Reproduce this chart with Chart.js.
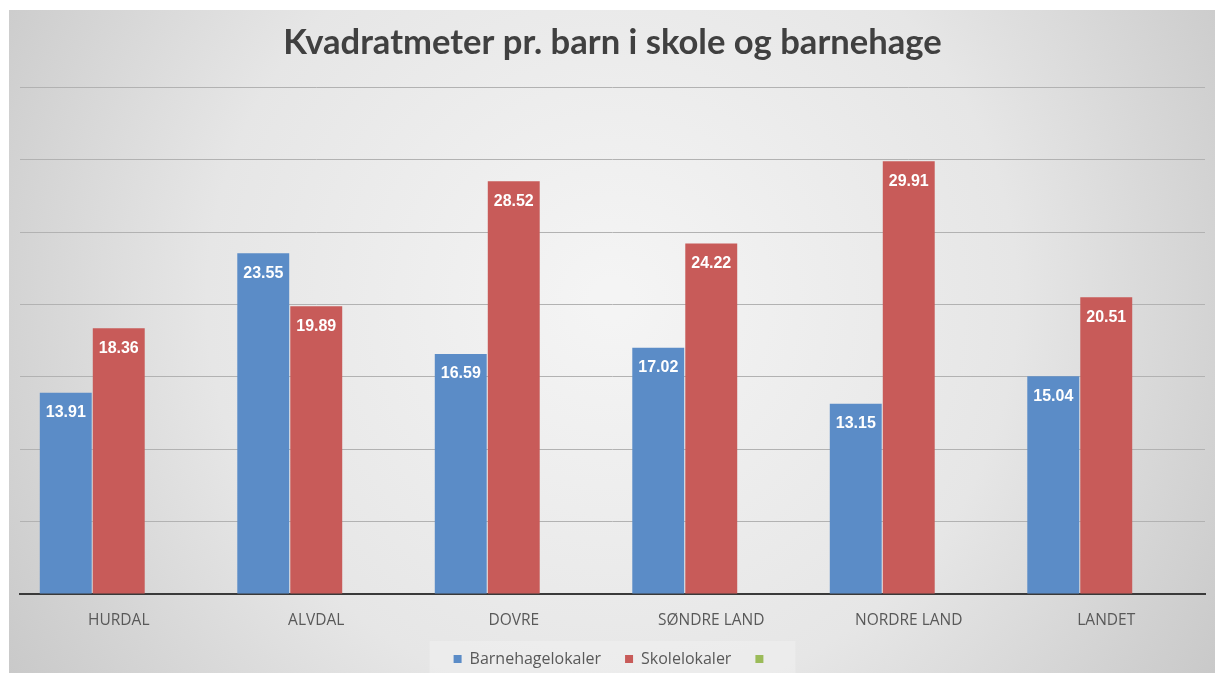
<!DOCTYPE html>
<html>
<head>
<meta charset="utf-8">
<script src="https://cdn.jsdelivr.net/npm/chart.js@4.4.1/dist/chart.umd.min.js"></script>
<style>
  html, body { margin: 0; padding: 0; background: #fff; }
  #wrap { width: 1215px; height: 673px; position: relative; }
</style>
</head>
<body>
<div id="wrap"><canvas id="barChart" width="1215" height="673"></canvas></div>
<script>
const kommuner = ["HURDAL", "ALVDAL", "DOVRE", "SØNDRE LAND", "NORDRE LAND", "LANDET"];
const barnehage = [13.91, 23.55, 16.59, 17.02, 13.15, 15.04];
const skole = [18.36, 19.89, 28.52, 24.22, 29.91, 20.51];
// third series is empty in the original (only a green legend key, no bars)
const tom = [null, null, null, null, null, null];
const yTicks = [0, 5, 10, 15, 20, 25, 30, 35];

// gray gradient behind everything, white strip on top/left like the screenshot
const bgPlugin = {
    id: 'bg',
    beforeDraw(chart) {
        const ctx = chart.ctx;
        ctx.save();
        ctx.fillStyle = '#ffffff';
        ctx.fillRect(0, 0, chart.width, chart.height);
        const g = ctx.createRadialGradient(612, 300, 20, 612, 300, 720);
        g.addColorStop(0, '#f4f4f4');
        g.addColorStop(0.55, '#e6e6e6');
        g.addColorStop(1, '#c8c8c8');
        ctx.fillStyle = g;
        ctx.fillRect(9, 10, chart.width - 9, chart.height - 10);

        // lighter box behind legend items
        const boxes = chart.legend && chart.legend.legendHitBoxes;
        if (boxes && boxes.length) {
            let l = Infinity, r = -Infinity;
            boxes.forEach(b => { l = Math.min(l, b.left); r = Math.max(r, b.left + b.width); });
            ctx.fillStyle = 'rgba(240,240,240,0.55)';
            ctx.fillRect(l - 24, 641, (r - l) + 48, chart.height - 641);
        }
        ctx.restore();
    }
};

// value labels inside the top of each bar
const valuePlugin = {
    id: 'values',
    afterDatasetsDraw(chart) {
        const ctx = chart.ctx;
        ctx.save();
        ctx.fillStyle = '#ffffff';
        ctx.font = 'bold 16px "Liberation Sans", Arial, sans-serif';
        ctx.textAlign = 'center';
        ctx.textBaseline = 'middle';
        chart.data.datasets.forEach((ds, i) => {
            chart.getDatasetMeta(i).data.forEach((bar, j) => {
                if (ds.data[j] == null) return;
                ctx.fillText(ds.data[j].toFixed(2), bar.x, bar.y + 20);
            });
        });
        ctx.restore();
    }
};

const ctx = document.getElementById('barChart').getContext('2d');
const myBarChart = new Chart(ctx, {
    type: 'bar',
    data: {
        labels: kommuner,
        datasets: [{
            label: 'Barnehagelokaler',
            data: barnehage,
            backgroundColor: '#5b8cc7',
            borderWidth: 0
        }, {
            label: 'Skolelokaler',
            data: skole,
            backgroundColor: '#c85b59',
            borderWidth: 0
        }, {
            label: '',
            data: tom,
            backgroundColor: '#9bbb59',
            borderWidth: 0
        }]
    },
    options: {
        responsive: false,
        animation: false,
        devicePixelRatio: 1,
        layout: { padding: { top: 10, left: 20, right: 10, bottom: -4 } },
        datasets: {
            bar: { categoryPercentage: 0.805, barPercentage: 0.98 }
        },
        plugins: {
            title: {
                display: true,
                text: 'Kvadratmeter pr. barn i skole og barnehage',
                color: '#404040',
                font: { family: 'Lato, "Open Sans", sans-serif', size: 34.6, weight: 'bold' },
                padding: { top: 12, bottom: 24 }
            },
            legend: {
                position: 'bottom',
                labels: {
                    color: '#595959',
                    font: { family: '"Open Sans", sans-serif', size: 16 },
                    boxWidth: 8,
                    boxHeight: 8,
                    padding: 24
                }
            },
            tooltip: { enabled: false }
        },
        scales: {
            x: {
                grid: { display: false, drawTicks: false },
                border: { display: true, color: '#3a3a3a', width: 2 },
                ticks: {
                    color: '#595959',
                    font: { family: '"Open Sans", sans-serif', size: 15.5 },
                    padding: 17
                },
                afterFit(scale) {
                    scale.height = 33;
                }
            },
            y: {
                min: yTicks[0],
                max: yTicks[yTicks.length - 1],
                afterBuildTicks(scale) {
                    scale.ticks = yTicks.map(v => ({ value: v }));
                },
                ticks: { display: false },
                grid: { color: '#b2b2b2', lineWidth: 1, drawTicks: false },
                border: { display: false }
            }
        }
    },
    plugins: [bgPlugin, valuePlugin]
});
</script>
</body>
</html>
